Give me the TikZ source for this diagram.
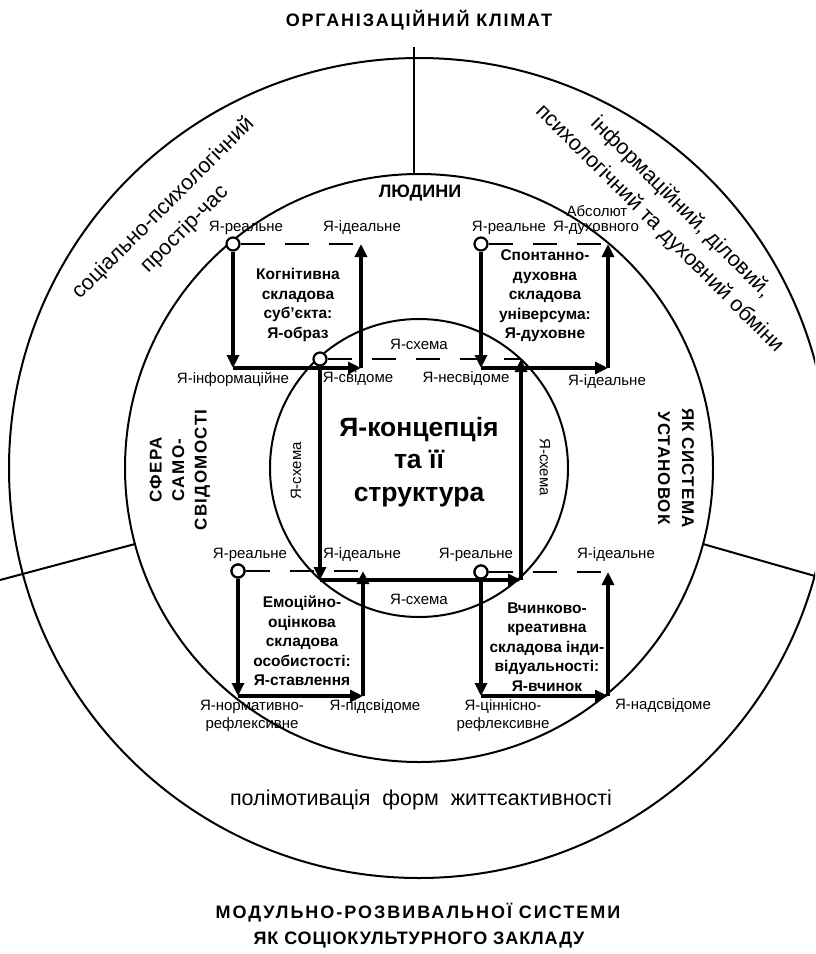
\documentclass[tikz,border=0pt]{standalone}
\usepackage{fontspec}
\setmainfont{Liberation Sans}
\usetikzlibrary{arrows.meta}
\tikzset{
  lbl/.style={font=\fontsize{15}{18}\selectfont, inner sep=0pt, align=center},
  bld/.style={font=\bfseries\fontsize{15.5}{19.5}\selectfont, align=center, inner sep=0pt},
  ttl/.style={font=\bfseries\fontsize{18}{27}\selectfont, align=center, inner sep=0pt},
  big/.style={font=\bfseries\fontsize{26.5}{32.5}\selectfont, align=center, inner sep=0pt},
  ringtxt/.style={font=\fontsize{21.5}{30}\selectfont, align=center, inner sep=0pt},
  arr/.style={line width=3.2pt, -{Triangle[length=13pt,width=12pt]}},
  dsh/.style={line width=2.6pt, dash pattern=on 24pt off 20pt},
  ring/.style={line width=2pt},
  knot/.style={circle, draw, fill=white, line width=2.2pt, minimum size=13pt, inner sep=0pt},
}
\begin{document}
\begin{tikzpicture}[x=1pt,y=-1pt]
\useasboundingbox (0,0) rectangle (815,954);
\clip (0,0) rectangle (815,954);
\fill[white] (0,0) rectangle (815,954);
\coordinate (C) at (419,468);
% rings
\draw[ring] (C) circle[radius=410];
\draw[ring] (C) circle[radius=294];
\draw[ring] (C) circle[radius=149];
% dividers
\coordinate (t1) at (414,174); \coordinate (t2) at (414,47);
\coordinate (l1) at (135,544); \coordinate (l2) at (0,580);
\coordinate (r1) at (703,544); \coordinate (r2) at (815,576);
\draw[ring] (t1) -- (t2);
\draw[ring] (l1) -- (l2);
\draw[ring] (r1) -- (r2);

% ---- central square
\coordinate (c2) at (521,359); \coordinate (c3) at (521,580); \coordinate (c4) at (320,580);
\node[knot] (kc) at (320,359) {};
\draw[dsh] (kc) -- (c2);
\draw[arr] (kc) -- (c4);
\draw[arr] (c4) -- (c3);
\draw[arr] (c3) -- (c2);

% ---- top-left loop
\coordinate (a2) at (361,244); \coordinate (a3) at (361,368); \coordinate (a4) at (233,368);
\node[knot] (ka) at (233,244) {};
\draw[dsh] (ka) -- (a2);
\draw[arr] (ka) -- (a4);
\draw[arr] (a4) -- (a3);
\draw[arr] (a3) -- (a2);

% ---- top-right loop
\coordinate (b2) at (608,244); \coordinate (b3) at (608,368); \coordinate (b4) at (481,368);
\node[knot] (kb) at (481,244) {};
\draw[dsh] (kb) -- (b2);
\draw[arr] (kb) -- (b4);
\draw[arr] (b4) -- (b3);
\draw[arr] (b3) -- (b2);

% ---- bottom-left loop
\coordinate (d2) at (363,571); \coordinate (d3) at (363,696); \coordinate (d4) at (238,696);
\node[knot] (kd) at (238,571) {};
\draw[dsh] (kd) -- (d2);
\draw[arr] (kd) -- (d4);
\draw[arr] (d4) -- (d3);
\draw[arr] (d3) -- (d2);

% ---- bottom-right loop
\coordinate (e2) at (608,572); \coordinate (e3) at (608,696); \coordinate (e4) at (481,696);
\node[knot] (ke) at (481,572) {};
\draw[dsh] (ke) -- (e2);
\draw[arr] (ke) -- (e4);
\draw[arr] (e4) -- (e3);
\draw[arr] (e3) -- (e2);
\node[knot] (kd2) at (kd) {};
\node[knot] (ke2) at (ke) {};

% ---- labels
\node[lbl] (la1) at (246,228) {Я-реальне};
\node[lbl] (la2) at (362,228) {Я-ідеальне};
\node[lbl] (la3) at (233,379) {Я-інформаційне};
\node[lbl] (la4) at (358,379) {Я-свідоме};

\node[lbl] (lb1) at (509,228) {Я-реальне};
\node[lbl] (lb2) at (597,211) {Абсолют};
\node[lbl] (lb3) at (596,228) {Я-духовного};
\node[lbl] (lb4) at (466,379) {Я-несвідоме};
\node[lbl] (lb5) at (607,382) {Я-ідеальне};

\node[lbl] (lc1) at (419,344) {Я-схема};
\node[lbl] (lc2) at (419,599) {Я-схема};
\node[lbl, rotate=90] (lc3) at (296,471) {Я-схема};
\node[lbl, rotate=-90] (lc4) at (545,467) {Я-схема};

\node[lbl] (ld1) at (250,555) {Я-реальне};
\node[lbl] (ld2) at (362,555) {Я-ідеальне};
\node[lbl] (ld3) at (252,716) {Я-нормативно-\\рефлексивне};
\node[lbl] (ld4) at (375,707) {Я-підсвідоме};

\node[lbl] (le1) at (476,555) {Я-реальне};
\node[lbl] (le2) at (616,555) {Я-ідеальне};
\node[lbl] (le3) at (503,716) {Я-ціннісно-\\рефлексивне};
\node[lbl] (le4) at (663,706) {Я-надсвідоме};

% ---- bold inner texts
\node[bld] (ta) at (298,305) {Когнітивна\\складова\\суб’єкта:\\Я-образ};
\node[bld] (tb) at (545,296) {Спонтанно-\\духовна\\складова\\універсума:\\Я-духовне};
\node[bld] (td) at (302,641) {Емоційно-\\оцінкова\\складова\\особистості:\\Я-ставлення};
\node[bld] (te) at (547,647) {Вчинково-\\креативна\\складова інди-\\відуальності:\\Я-вчинок};

\node[big] (cen) at (419,462) {Я-концепція\\та її\\структура};

% ---- titles
\node[ttl, font=\bfseries\fontsize{18}{27}\selectfont\addfontfeatures{LetterSpace=10}] (title) at (419,20) {ОРГАНІЗАЦІЙНИЙ КЛІМАТ};
\node[ttl] (lyud) at (420,193) {ЛЮДИНИ};
\node[ttl, font=\bfseries\fontsize{18}{27}\selectfont\addfontfeatures{LetterSpace=11}] (bot1) at (418,913) {МОДУЛЬНО-РОЗВИВАЛЬНОЇ СИСТЕМИ};
\node[ttl, font=\bfseries\fontsize{18}{27}\selectfont\addfontfeatures{LetterSpace=5}] (bot2) at (419,940) {ЯК СОЦІОКУЛЬТУРНОГО ЗАКЛАДУ};
\node[bld, font=\bfseries\fontsize{17}{22.5}\selectfont\addfontfeatures{LetterSpace=8}, rotate=90] (sfera) at (180,470) {СФЕРА\\САМО-\\СВІДОМОСТІ};
\node[bld, font=\bfseries\fontsize{17}{24}\selectfont\addfontfeatures{LetterSpace=6}, rotate=-90] (yak) at (676,468) {ЯК СИСТЕМА\\УСТАНОВОК};

\node[ringtxt] (poli) at (421,800) {полімотивація\ \ форм\ \ життєактивності};
\node[ringtxt, rotate=45] (soc) at (174,219) {соціально-психологічний\\простір-час};
\node[ringtxt, rotate=-45] (inf) at (670,218) {інформаційний, діловий,\\психологічний та духовний обміни};
\end{tikzpicture}
\end{document}
